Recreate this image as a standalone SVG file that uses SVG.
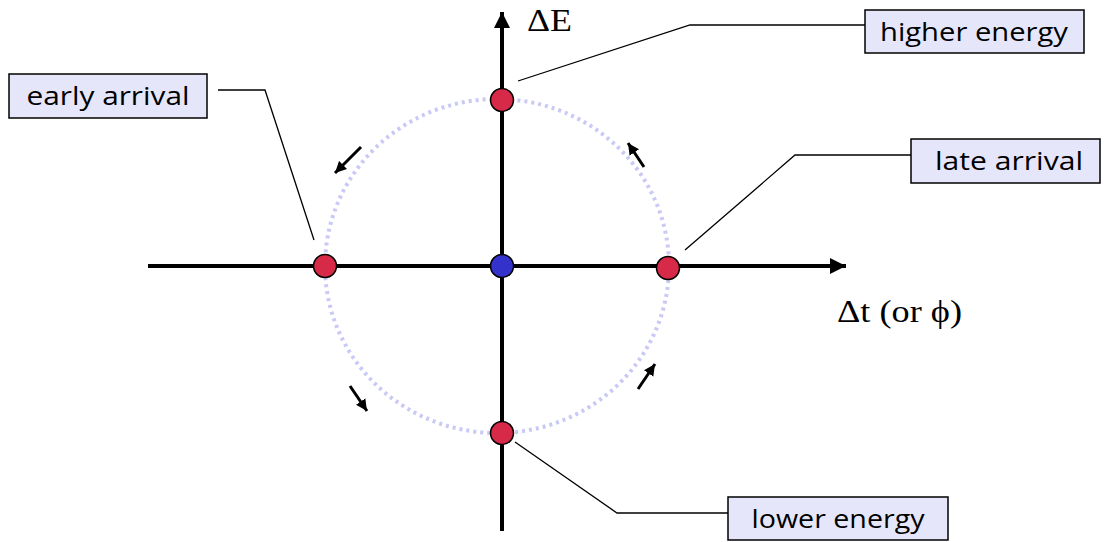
<svg xmlns="http://www.w3.org/2000/svg" width="1104" height="542" viewBox="0 0 1104 542">
<style>
.box{fill:#e6e6fb;stroke:#000;stroke-width:1.5}
.lbl{font-family:"Open Sans","Liberation Sans",sans-serif;font-size:25px;fill:#000;text-anchor:middle}
.ax{font-family:"Liberation Serif",serif;font-size:31px;fill:#000}
.lead{fill:none;stroke:#000;stroke-width:1.3}
.red{fill:#d62a48;stroke:#000;stroke-width:1.5}
.blue{fill:#3333cc;stroke:#000;stroke-width:1.5}
.axis{stroke:#000;stroke-width:4;fill:none}
.small{stroke:#000;stroke-width:3;fill:none}
</style>
<defs>
<marker id="big" viewBox="0 0 10 10" refX="10" refY="5" markerWidth="4" markerHeight="4.5" orient="auto" markerUnits="strokeWidth"><path d="M0,0 L10,5 L0,10 z" fill="#000"/></marker>
<marker id="sm" viewBox="0 0 10 10" refX="10" refY="5" markerWidth="3.8" markerHeight="4" orient="auto" markerUnits="strokeWidth"><path d="M0,0 L10,5 L0,10 z" fill="#000"/></marker>
</defs>
<rect width="1104" height="542" fill="#fff"/>
<ellipse cx="497" cy="266" rx="172" ry="167" fill="none" stroke="#c9c9f6" stroke-width="4" stroke-dasharray="3 4"/>
<g id="connectors">
<line class="axis" x1="502" y1="531" x2="502" y2="12" marker-end="url(#big)"/>
<line class="axis" x1="148" y1="266" x2="846" y2="266" marker-end="url(#big)"/>
<polyline class="lead" points="518,81 690,25 865,25"/>
<polyline class="lead" points="218,90 265,90 314,240"/>
<polyline class="lead" points="685,250 795,155 911,155"/>
<polyline class="lead" points="515,442 617,513 728,513"/>
<line class="small" x1="361" y1="147" x2="335" y2="173" marker-end="url(#sm)"/>
<line class="small" x1="644" y1="167" x2="628" y2="143" marker-end="url(#sm)"/>
<line class="small" x1="350" y1="386" x2="367" y2="411" marker-end="url(#sm)"/>
<line class="small" x1="638" y1="389" x2="655" y2="364" marker-end="url(#sm)"/>
</g>
<g id="dE"><text class="ax" x="527" y="31" textLength="45" lengthAdjust="spacingAndGlyphs">ΔE</text></g>
<g id="dt"><text class="ax" x="837" y="322" textLength="125" lengthAdjust="spacingAndGlyphs">Δt (or ϕ)</text></g>
<g id="center"><circle class="blue" cx="502" cy="266" r="11.5"/></g>
<g id="top"><circle class="red" cx="502" cy="100" r="11.5"/></g>
<g id="bottom"><circle class="red" cx="502" cy="433" r="11.5"/></g>
<g id="left"><circle class="red" cx="325" cy="266" r="11.5"/></g>
<g id="right"><circle class="red" cx="668" cy="268" r="11.5"/></g>
<g id="higher-energy"><rect class="box" x="865" y="10" width="219" height="43"/><text class="lbl" x="974" y="41" textLength="188" lengthAdjust="spacingAndGlyphs">higher energy</text></g>
<g id="early-arrival"><rect class="box" x="9" y="74" width="198" height="44"/><text class="lbl" x="108" y="105" textLength="163" lengthAdjust="spacingAndGlyphs">early arrival</text></g>
<g id="late-arrival"><rect class="box" x="911" y="139" width="189" height="44"/><text class="lbl" x="1009" y="170" textLength="148" lengthAdjust="spacingAndGlyphs">late arrival</text></g>
<g id="lower-energy"><rect class="box" x="728" y="497" width="220" height="43"/><text class="lbl" x="838" y="528" textLength="173" lengthAdjust="spacingAndGlyphs">lower energy</text></g>
</svg>
